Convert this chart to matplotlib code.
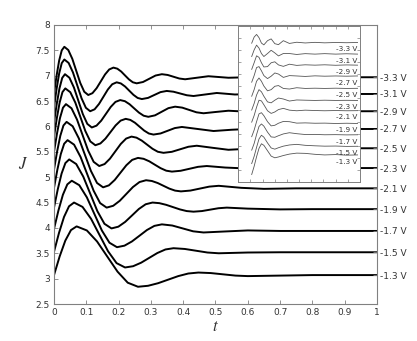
import matplotlib.pyplot as plt
import numpy as np

# right-hand labels (bias voltage) and steady level of each curve
volts = ["-3.3 V", "-3.1 V", "-2.9 V", "-2.7 V", "-2.5 V", "-2.3 V",
         "-2.1 V", "-1.9 V", "-1.7 V", "-1.5 V", "-1.3 V"]
final_J = [6.97, 6.64, 6.30, 5.95, 5.57, 5.18, 4.78, 4.37, 3.94, 3.52, 3.07]

# main curves (t, J)
t0 = [0, 0.008, 0.016, 0.024, 0.032, 0.0443, 0.0567, 0.069, 0.0813, 0.0937, 0.106,
      0.119, 0.132, 0.145, 0.158, 0.171, 0.184, 0.196, 0.208, 0.22, 0.232, 0.244, 0.256,
      0.2755, 0.295, 0.3145, 0.334, 0.352, 0.37, 0.388, 0.406, 0.442, 0.478, 0.54, 0.6, 0.8, 1.0]
J0 = [6.65, 7.002, 7.30, 7.50, 7.57, 7.506, 7.333, 7.095, 6.858, 6.684, 6.62,
      6.656, 6.755, 6.89, 7.025, 7.124, 7.16, 7.139, 7.083, 7.005, 6.928, 6.871, 6.85,
      6.876, 6.94, 7.004, 7.03, 7.015, 6.98, 6.945, 6.93, 6.96, 6.99, 6.96, 6.97, 6.97, 6.97]
t1 = [0, 0.008, 0.016, 0.024, 0.032, 0.0453, 0.0587, 0.072, 0.0853, 0.0987, 0.112,
      0.1257, 0.1393, 0.153, 0.1667, 0.1803, 0.194, 0.207, 0.22, 0.233, 0.246, 0.259, 0.272,
      0.2913, 0.3105, 0.3298, 0.349, 0.3698, 0.3905, 0.4113, 0.432, 0.468, 0.504, 0.56, 0.62, 1.0]
J1 = [6.38, 6.74, 7.045, 7.249, 7.32, 7.252, 7.065, 6.81, 6.555, 6.368, 6.30,
      6.338, 6.443, 6.585, 6.728, 6.832, 6.87, 6.848, 6.788, 6.705, 6.623, 6.562, 6.54,
      6.563, 6.62, 6.677, 6.70, 6.685, 6.65, 6.615, 6.60, 6.63, 6.66, 6.63, 6.64, 6.64]
t2 = [0, 0.0085, 0.017, 0.0255, 0.034, 0.0478, 0.0617, 0.0755, 0.0893, 0.1032, 0.117,
      0.1317, 0.1463, 0.161, 0.1757, 0.1903, 0.205, 0.2195, 0.234, 0.2485, 0.263, 0.2775, 0.292,
      0.3128, 0.3335, 0.3543, 0.375, 0.397, 0.419, 0.441, 0.463, 0.50, 0.54, 0.6, 0.7, 1.0]
J2 = [6.08, 6.444, 6.752, 6.958, 7.03, 6.96, 6.768, 6.505, 6.243, 6.05, 5.98,
      6.016, 6.115, 6.25, 6.385, 6.484, 6.52, 6.498, 6.438, 6.355, 6.273, 6.212, 6.19,
      6.219, 6.29, 6.361, 6.39, 6.371, 6.325, 6.279, 6.26, 6.285, 6.31, 6.29, 6.30, 6.30]
t3 = [0, 0.00875, 0.0175, 0.02625, 0.035, 0.0505, 0.066, 0.0815, 0.097, 0.1125, 0.128,
      0.1437, 0.1593, 0.175, 0.1907, 0.2063, 0.222, 0.2363, 0.2507, 0.265, 0.2793, 0.2937, 0.308,
      0.33, 0.352, 0.374, 0.396, 0.445, 0.494, 0.55, 0.6, 0.7, 1.0]
J3 = [5.80, 6.164, 6.472, 6.678, 6.75, 6.675, 6.47, 6.19, 5.91, 5.705, 5.63,
      5.665, 5.76, 5.89, 6.02, 6.115, 6.15, 6.129, 6.073, 5.995, 5.918, 5.861, 5.84,
      5.862, 5.915, 5.968, 5.99, 5.95, 5.91, 5.935, 5.95, 5.95, 5.95]
t4 = [0, 0.00925, 0.0185, 0.02775, 0.037, 0.0542, 0.0713, 0.0885, 0.1057, 0.1228, 0.14,
      0.1567, 0.1733, 0.19, 0.2067, 0.2233, 0.24, 0.2555, 0.272, 0.2885, 0.305, 0.3215, 0.339,
      0.3648, 0.3905, 0.4163, 0.442, 0.49, 0.54, 0.6, 0.7, 1.0]
J4 = [5.50, 5.86, 6.165, 6.369, 6.44, 6.358, 6.135, 5.83, 5.525, 5.302, 5.22,
      5.259, 5.365, 5.51, 5.655, 5.761, 5.80, 5.779, 5.72, 5.64, 5.56, 5.501, 5.48,
      5.50, 5.55, 5.60, 5.62, 5.58, 5.54, 5.56, 5.57, 5.57]
t5 = [0, 0.00975, 0.0195, 0.02925, 0.039, 0.0578, 0.0767, 0.0955, 0.1143, 0.1332, 0.152,
      0.17, 0.188, 0.206, 0.224, 0.242, 0.26, 0.2775, 0.295, 0.3125, 0.33, 0.3475, 0.365,
      0.392, 0.419, 0.446, 0.473, 0.53, 0.6, 0.7, 1.0]
J5 = [5.15, 5.51, 5.815, 6.019, 6.09, 6.004, 5.768, 5.445, 5.123, 4.886, 4.80,
      4.839, 4.945, 5.09, 5.235, 5.341, 5.38, 5.362, 5.313, 5.245, 5.178, 5.128, 5.11,
      5.126, 5.165, 5.204, 5.22, 5.19, 5.17, 5.18, 5.18]
t6 = [0, 0.0105, 0.021, 0.0315, 0.042, 0.0622, 0.0823, 0.1025, 0.1227, 0.1428, 0.163,
      0.1833, 0.2037, 0.224, 0.2443, 0.2647, 0.285, 0.303, 0.321, 0.339, 0.357, 0.375, 0.393,
      0.4223, 0.4515, 0.4808, 0.51, 0.58, 0.65, 0.75, 1.0]
J6 = [4.79, 5.15, 5.455, 5.659, 5.73, 5.641, 5.398, 5.065, 4.733, 4.489, 4.40,
      4.436, 4.535, 4.67, 4.805, 4.904, 4.94, 4.925, 4.885, 4.83, 4.775, 4.735, 4.72,
      4.736, 4.775, 4.814, 4.83, 4.79, 4.77, 4.78, 4.78]
t7 = [0, 0.01175, 0.0235, 0.03525, 0.047, 0.0688, 0.0907, 0.1125, 0.1343, 0.1562, 0.178,
      0.1992, 0.2203, 0.2415, 0.2627, 0.2838, 0.305, 0.3262, 0.3473, 0.3685, 0.3897, 0.4108, 0.432,
      0.4578, 0.4835, 0.5093, 0.535, 0.6, 0.7, 0.8, 1.0]
J7 = [4.40, 4.764, 5.072, 5.278, 5.35, 5.259, 5.01, 4.67, 4.33, 4.081, 3.99,
      4.024, 4.118, 4.245, 4.373, 4.466, 4.50, 4.488, 4.455, 4.41, 4.365, 4.332, 4.32,
      4.332, 4.36, 4.388, 4.40, 4.38, 4.365, 4.37, 4.37]
t8 = [0, 0.01375, 0.0275, 0.04125, 0.055, 0.0783, 0.1017, 0.125, 0.1483, 0.1717, 0.195,
      0.2182, 0.2413, 0.2645, 0.2877, 0.3108, 0.334, 0.3663, 0.3985, 0.4308, 0.463,
      0.53, 0.6, 0.7, 1.0]
J8 = [3.98, 4.344, 4.652, 4.858, 4.93, 4.842, 4.603, 4.275, 3.948, 3.708, 3.62,
      3.65, 3.733, 3.845, 3.958, 4.04, 4.07, 4.047, 3.99, 3.933, 3.91,
      3.93, 3.95, 3.94, 3.94]
t9 = [0, 0.0155, 0.031, 0.0465, 0.062, 0.0883, 0.1147, 0.141, 0.1673, 0.1937, 0.22,
      0.245, 0.27, 0.295, 0.32, 0.345, 0.37, 0.405, 0.44, 0.475, 0.51, 0.6, 0.7, 1.0]
J9 = [3.53, 3.902, 4.216, 4.426, 4.50, 4.414, 4.18, 3.86, 3.54, 3.306, 3.22,
      3.245, 3.315, 3.41, 3.505, 3.575, 3.60, 3.585, 3.55, 3.515, 3.50, 3.515, 3.52, 3.52]
t10 = [0, 0.0175, 0.035, 0.0525, 0.07, 0.1017, 0.1333, 0.165, 0.1967, 0.2283, 0.26,
       0.2912, 0.3223, 0.3535, 0.3847, 0.4158, 0.447, 0.4853, 0.5235, 0.5618, 0.6, 0.7, 0.8, 1.0]
J10 = [3.07, 3.438, 3.749, 3.957, 4.03, 3.95, 3.733, 3.435, 3.138, 2.92, 2.84,
       2.859, 2.91, 2.98, 3.05, 3.101, 3.12, 3.11, 3.085, 3.06, 3.05, 3.06, 3.07, 3.07]
curve_t = [t0, t1, t2, t3, t4, t5, t6, t7, t8, t9, t10]
curve_J = [J0, J1, J2, J3, J4, J5, J6, J7, J8, J9, J10]

# inset (measured traces): common abscissa, baseline of each trace, deviation from it
inset_x = [1.1, 1.3, 1.5, 1.7, 1.9, 2.1, 2.4, 2.7, 3.0, 3.3, 3.7, 4.2, 4.8, 5.5, 6.3, 7.1, 8.0, 8.9, 9.8]
inset_level = [11.58, 10.63, 9.71, 8.79, 7.77, 6.77, 5.91, 4.85, 3.88, 2.91, 2.18]
inset_dev = [
    [-0.04, 0.47, 0.69, 0.42, -0.03, -0.18, 0.17, 0.32, -0.08, -0.16, 0.17, -0.06, 0.04, -0.02, 0.03, -0.01, 0.02, 0.0, 0.02],
    [-0.2, 0.35, 0.75, 0.5, 0.05, -0.2, 0.05, 0.32, 0.1, -0.15, 0.05, 0.05, -0.03, 0.04, 0.0, 0.04, 0.0, 0.03, 0.0],
    [-0.35, 0.2, 0.78, 0.65, 0.2, -0.15, -0.12, 0.2, 0.28, 0.02, -0.1, 0.08, -0.02, 0.03, 0.0, 0.03, -0.01, 0.02, 0.0],
    [-0.5, 0.05, 0.72, 0.8, 0.45, 0.05, -0.2, 0.0, 0.27, 0.18, -0.1, 0.05, 0.02, -0.02, 0.03, 0.0, 0.02, 0.0, 0.02],
    [-0.65, -0.1, 0.6, 0.87, 0.6, 0.2, -0.2, -0.1, 0.18, 0.24, 0.0, -0.05, 0.06, 0.0, 0.02, 0.0, 0.02, 0.0, 0.01],
    [-0.8, -0.25, 0.45, 0.9, 0.72, 0.35, -0.12, -0.2, 0.02, 0.2, 0.12, -0.05, 0.04, 0.02, 0.0, 0.02, 0.0, 0.01, 0.0],
    [-0.95, -0.4, 0.3, 0.88, 0.82, 0.5, 0.0, -0.22, -0.1, 0.1, 0.2, 0.05, 0.0, 0.05, 0.02, 0.0, 0.02, 0.0, 0.01],
    [-1.1, -0.55, 0.15, 0.8, 0.9, 0.65, 0.15, -0.2, -0.15, 0.02, 0.17, 0.15, 0.03, 0.05, 0.02, 0.03, 0.0, 0.02, 0.0],
    [-1.25, -0.7, 0.05, 0.72, 0.93, 0.75, 0.25, -0.15, -0.18, -0.05, 0.1, 0.2, 0.12, 0.05, 0.06, 0.03, 0.04, 0.02, 0.03],
    [-1.4, -0.8, -0.05, 0.65, 0.96, 0.8, 0.32, -0.1, -0.2, -0.08, 0.05, 0.15, 0.2, 0.12, 0.08, 0.05, 0.06, 0.03, 0.04],
    [-1.58, -0.9, -0.1, 0.6, 0.98, 0.85, 0.4, -0.05, -0.19, -0.12, 0.0, 0.12, 0.2, 0.18, 0.1, 0.05, 0.08, 0.03, 0.05],
]

frame = "#808080"
text_col = "#333333"
plt.rcParams["mathtext.fontset"] = "stix"

fig = plt.figure(figsize=(4.17, 3.41), dpi=100)
ax = fig.add_axes([0.1295, 0.1085, 0.7745, 0.8182])

for t, J in zip(curve_t, curve_J):
    ax.plot(t, J, color="black", lw=1.4, solid_joinstyle="round")

ax.set_xlim(0, 1)
ax.set_ylim(2.5, 8)
ax.set_xticks(np.arange(0, 1.01, 0.1))
ax.set_xticklabels(["0", "0.1", "0.2", "0.3", "0.4", "0.5", "0.6", "0.7", "0.8", "0.9", "1"])
ax.set_yticks(np.arange(2.5, 8.01, 0.5))
ax.set_yticklabels(["2.5", "3", "3.5", "4", "4.5", "5", "5.5", "6", "6.5", "7", "7.5", "8"])
ax.tick_params(direction="in", length=3, width=0.6, color=frame, labelcolor=text_col,
               labelsize=6.5, top=True, right=False, pad=3)
for s in ax.spines.values():
    s.set_color(frame)
    s.set_linewidth(0.8)
ax.set_xlabel("$t$", fontsize=12, color=text_col, labelpad=0)
ax.set_ylabel("$J$", fontsize=12, color=text_col, rotation=0, labelpad=9, va="center")

ax2 = ax.twinx()
ax2.set_ylim(2.5, 8)
ax2.set_yticks(final_J)
ax2.set_yticklabels(volts)
ax2.tick_params(direction="in", length=3, width=0.6, color=frame, labelcolor=text_col,
                labelsize=6.5, pad=2)
for s in ax2.spines.values():
    s.set_visible(False)

# inset
ins = fig.add_axes([0.5715, 0.4672, 0.2918, 0.4575], zorder=5)
ins.set_facecolor("white")
for dev, lev in zip(inset_dev, inset_level):
    ins.plot(inset_x, np.array(dev) + lev, color="#555555", lw=0.6)
for lab, lev in zip(volts, inset_level):
    ins.text(9.75, lev - 0.55, lab, ha="right", va="center", fontsize=5.2, color=text_col)
ins.set_xlim(0, 10)
ins.set_ylim(0, 13)
ins.set_xticks(np.arange(1, 10))
ins.set_yticks(np.arange(1, 13))
ins.tick_params(direction="in", length=2, width=0.5, color=frame, labelleft=False,
                labelbottom=False, top=True, right=True)
for s in ins.spines.values():
    s.set_color(frame)
    s.set_linewidth(0.7)

fig.savefig("out.png", dpi=100)
